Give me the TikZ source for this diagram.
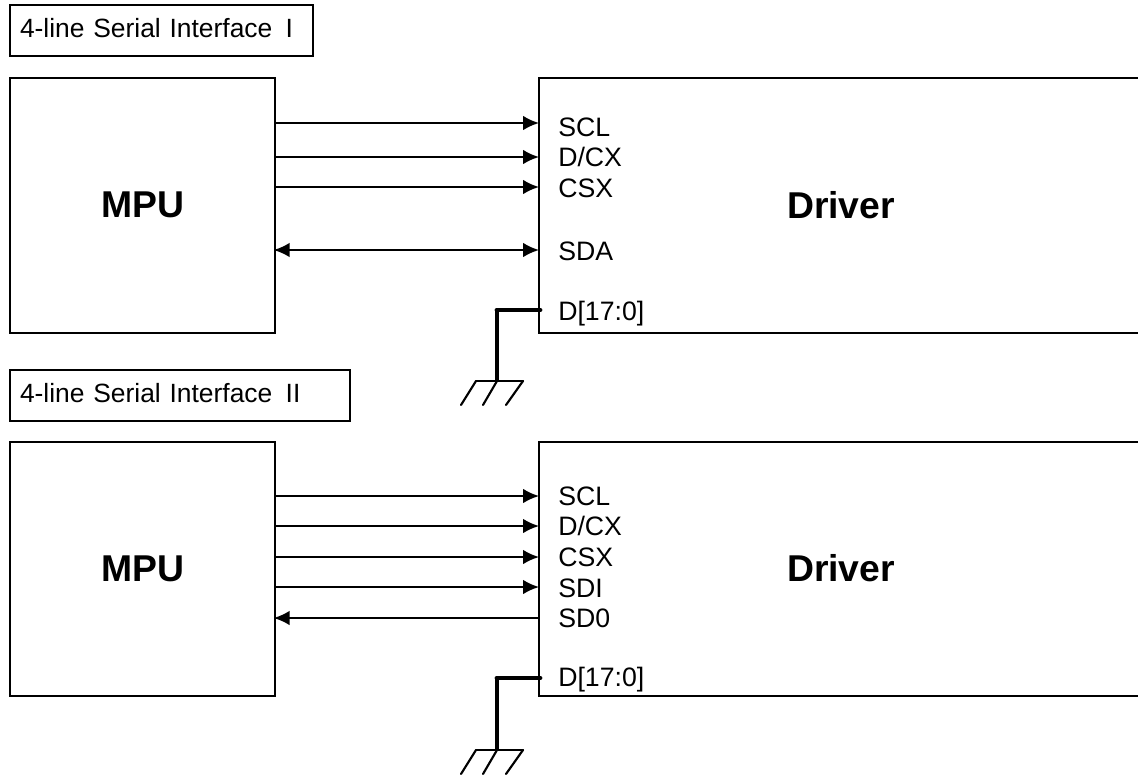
\documentclass[tikz,border=0pt]{standalone}
\usepackage{fontspec}
\setmainfont{Liberation Sans}
\usetikzlibrary{arrows.meta}
\begin{document}
\begin{tikzpicture}[x=0.75pt,y=-0.75pt,
  box/.style={draw,line width=1.5pt,rectangle,inner sep=0pt,outer sep=0pt,anchor=north west},
  titlebox/.style={box,font=\fontsize{19.8}{23}\selectfont,align=left,inner xsep=7.5pt,text height=14.6pt,text depth=3.4pt},
  blockbox/.style={box,minimum width=265*0.75pt,minimum height=254.5*0.75pt,font=\bfseries\fontsize{28}{33}\selectfont},
  drvbox/.style={box,minimum width=640*0.75pt,minimum height=254.5*0.75pt},
  head/.style={font=\bfseries\fontsize{28}{33}\selectfont,inner sep=0pt},
  pin/.style={font=\fontsize{20}{23}\selectfont,anchor=west,inner sep=0pt},
  sig/.style={line width=1.5pt,-{Latex[length=12pt,width=11pt]}},
  bidi/.style={line width=1.5pt,{Latex[length=12pt,width=11pt]}-{Latex[length=12pt,width=11pt]},shorten <=-1pt},
  back/.style={sig,shorten >=-1pt},
  gndw/.style={line width=2.4pt},
  bus/.style={line width=3.6pt,line cap=round},
  hatch/.style={line width=1.6pt,line cap=round}]
\useasboundingbox (0,0) rectangle (1138,776);
\clip (0,0) rectangle (1138,776);
% titles
\node[titlebox,minimum width=303*0.75pt,minimum height=51*0.75pt,text width=283*0.75pt] (t1) at (10,5) {4-line Serial Interface\hspace{10pt}I};
\node[titlebox,minimum width=340*0.75pt,minimum height=51*0.75pt,text width=320*0.75pt] (t2) at (10,370) {4-line Serial Interface\hspace{10pt}II};
% first group
\node[blockbox] (mpu1) at (10,78) {MPU};
\node[drvbox] (drv1) at (539,78) {};
\node[head] (drvt1) at (841,205) {Driver};
\node[pin] (p1a) at (558,127) {SCL};
\node[pin] (p1b) at (558,157) {D/CX};
\node[pin] (p1c) at (558,188) {CSX};
\node[pin] (p1d) at (558,251) {SDA};
\node[pin] (p1e) at (558,314) {D[17:0]};
\coordinate (c1a) at (275,123);
\coordinate (c1b) at (275,157);
\coordinate (c1c) at (275,187);
\coordinate (c1d) at (275,250);
\draw[sig] (c1a) -- (drv1.west |- c1a);
\draw[sig] (c1b) -- (drv1.west |- c1b);
\draw[sig] (c1c) -- (drv1.west |- c1c);
\draw[bidi] (c1d) -- (drv1.west |- c1d);
\coordinate (b1) at (540,310);
\coordinate (g1) at (497,381);
\draw[bus] (b1) -- (g1 |- b1);
\draw[gndw] (g1 |- b1) -- (g1);
\coordinate (g1l) at (476,381);
\coordinate (g1r) at (523,381);
\draw[hatch] (g1l) -- (g1r);
\coordinate (g1la) at (461,405);
\coordinate (g1ma) at (483,405);
\coordinate (g1ra) at (506,405);
\draw[hatch] (g1l) -- (g1la);
\draw[hatch] (g1) -- (g1ma);
\draw[hatch] (g1r) -- (g1ra);
% second group
\node[blockbox] (mpu2) at (10,441.5) {MPU};
\node[drvbox] (drv2) at (539,441.5) {};
\node[head] (drvt2) at (841,568) {Driver};
\node[pin] (p2a) at (558,496) {SCL};
\node[pin] (p2b) at (558,526) {D/CX};
\node[pin] (p2c) at (558,557) {CSX};
\node[pin] (p2d) at (558,588) {SDI};
\node[pin] (p2e) at (558,618) {SD0};
\node[pin] (p2f) at (558,680) {D[17:0]};
\coordinate (c2a) at (275,496);
\coordinate (c2b) at (275,526);
\coordinate (c2c) at (275,557);
\coordinate (c2d) at (275,587);
\coordinate (c2e) at (275,618);
\draw[sig] (c2a) -- (drv2.west |- c2a);
\draw[sig] (c2b) -- (drv2.west |- c2b);
\draw[sig] (c2c) -- (drv2.west |- c2c);
\draw[sig] (c2d) -- (drv2.west |- c2d);
\draw[back] (drv2.west |- c2e) -- (c2e);
\coordinate (b2) at (540,678);
\coordinate (g2) at (497,750);
\draw[bus] (b2) -- (g2 |- b2);
\draw[gndw] (g2 |- b2) -- (g2);
\coordinate (g2l) at (476,750);
\coordinate (g2r) at (523,750);
\draw[hatch] (g2l) -- (g2r);
\coordinate (g2la) at (461,774);
\coordinate (g2ma) at (483,774);
\coordinate (g2ra) at (506,774);
\draw[hatch] (g2l) -- (g2la);
\draw[hatch] (g2) -- (g2ma);
\draw[hatch] (g2r) -- (g2ra);
\end{tikzpicture}
\end{document}
